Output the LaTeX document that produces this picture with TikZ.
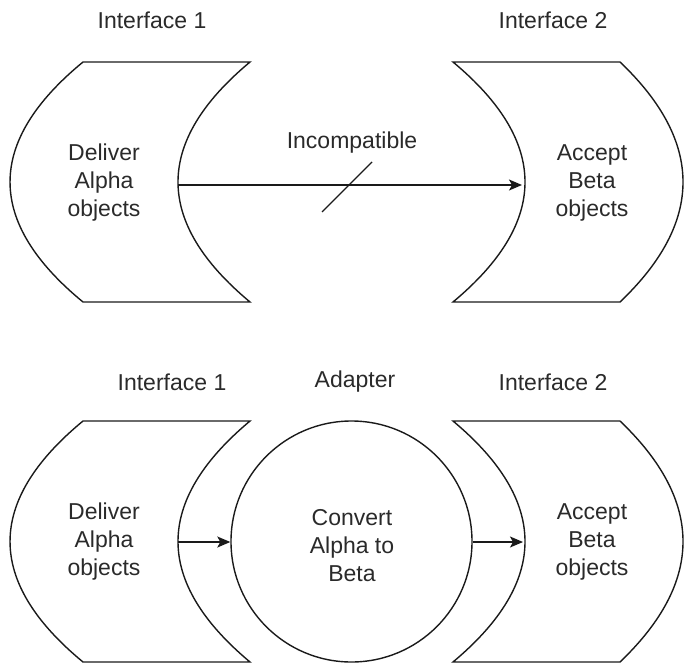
\documentclass[tikz,border=0pt]{standalone}
\usepackage{fontspec}
\setmainfont{Liberation Sans}
\usetikzlibrary{arrows.meta}
\definecolor{inkline}{HTML}{1A1A1A}
\definecolor{inktext}{HTML}{2A2A2A}
\begin{document}
\begin{tikzpicture}[x=1pt,y=-1pt,
  outline/.style={draw=inkline,line width=1.4pt,line join=miter},
  label/.style={text=inktext,font=\fontsize{23}{28}\selectfont,inner sep=0pt},
  boxtext/.style={label,align=center},
  flow/.style={draw=inkline,line width=1.4pt,-{Stealth[length=13pt,width=11pt,inset=3pt]}},
  cross/.style={draw=inkline,line width=1.4pt}]
\useasboundingbox (0,0) rectangle (685,664);

% ---------- top row: the two interfaces side by side ----------
% sending interface (concave on its right)
\path[outline] (83,62) -- (250,62)
  .. controls (154,142) and (154,222) .. (250,302) -- (83,302)
  .. controls (-14.3,222) and (-14.3,142) .. (83,62) -- cycle;
% receiving interface (concave on its left)
\path[outline] (453,62) -- (620,62)
  .. controls (704,142) and (704,222) .. (620,302) -- (453,302)
  .. controls (549,222) and (549,142) .. (453,62) -- cycle;

\node[label] (iftopA) at (152,20) {Interface 1};
\node[label] (iftopB) at (553,20) {Interface 2};
\node[boxtext] (delivtop) at (104,183) {Deliver\\Alpha\\objects};
\node[boxtext] (accepttop) at (592,183) {Accept\\Beta\\objects};
\node[label] (incompat) at (352,143) {Incompatible};

\coordinate (outtop) at (178,185);
\coordinate (intop) at (522,185);
\draw[flow] (outtop) -- (intop);
\coordinate (slashA) at (322,212);
\coordinate (slashB) at (372,162);
\draw[cross] (slashA) -- (slashB);

% ---------- bottom row: interfaces joined by the adapter ----------
\path[outline] (83,421) -- (250,421)
  .. controls (154,501.3) and (154,581.7) .. (250,662) -- (83,662)
  .. controls (-14.3,581.7) and (-14.3,501.3) .. (83,421) -- cycle;
\path[outline] (453,421) -- (620,421)
  .. controls (704,501.3) and (704,581.7) .. (620,662) -- (453,662)
  .. controls (549,581.7) and (549,501.3) .. (453,421) -- cycle;

\node[outline,circle,minimum size=241pt,inner sep=0pt] (adapter) at (351.5,541.5) {};
\node[boxtext] (convert) at (352,546) {Convert\\Alpha to\\Beta};

\node[label] (ifbotA) at (172,382) {Interface 1};
\node[label] (adaptlbl) at (355,382) {Adapter};
\node[label] (ifbotB) at (553,382) {Interface 2};
\node[boxtext] (delivbot) at (104,542) {Deliver\\Alpha\\objects};
\node[boxtext] (acceptbot) at (592,542) {Accept\\Beta\\objects};

\coordinate (outbot) at (178,542);
\coordinate (inbot) at (523,542);
\draw[flow] (outbot) -- (adapter.west |- outbot);
\draw[flow] (adapter.east |- inbot) -- (inbot);
\end{tikzpicture}
\end{document}
